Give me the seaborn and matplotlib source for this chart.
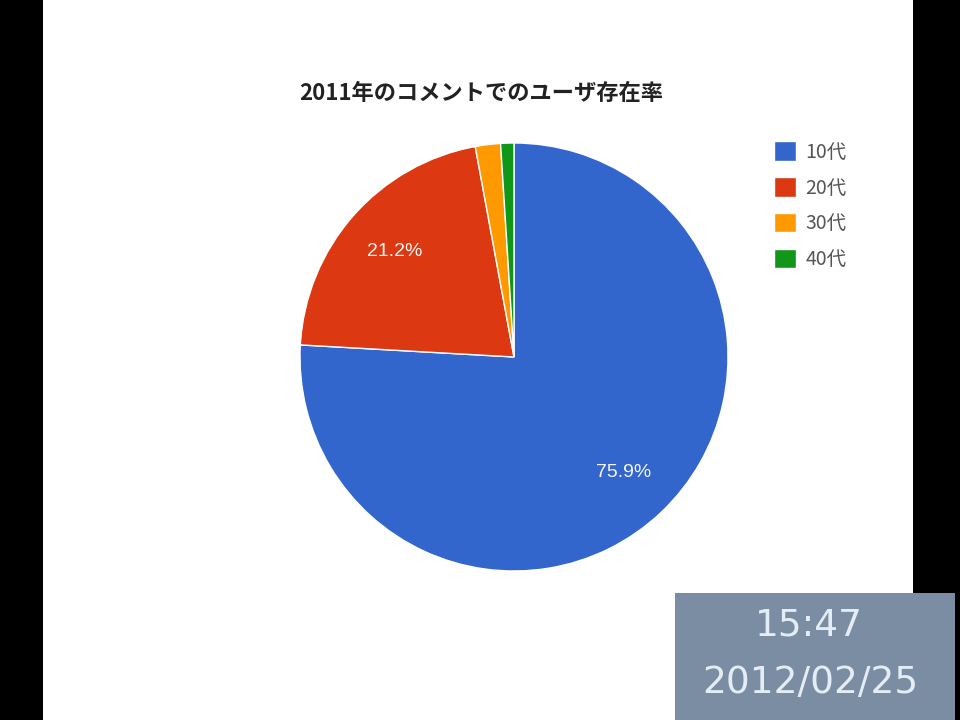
import matplotlib
matplotlib.use("Agg")
import matplotlib.pyplot as plt
from matplotlib.patches import Rectangle
import seaborn as sns

title = "2011年のコメントでのユーザ存在率"
labels = ["10代", "20代", "30代", "40代"]
shares = [75.9, 21.2, 1.9, 1.0]
colors = ["#3366cc", "#dc3912", "#ff9900", "#109618"]
clock_time = "15:47"
clock_date = "2012/02/25"

sns.set_theme(style="white")
plt.rcParams["font.family"] = ["Noto Sans CJK JP", "DejaVu Sans"]

W, H = 960, 720
fig = plt.figure(figsize=(W / 100, H / 100), dpi=100, facecolor="black")

# white page on the black frame
fig.patches.append(Rectangle((43 / W, 0), (913 - 43) / W, 1, transform=fig.transFigure,
                             facecolor="white", edgecolor="none", zorder=-1))

# pie axes: centre (514, 357), radius 214 px
r = 214
ax = fig.add_axes([(514 - r) / W, 1 - (357 + r) / H, 2 * r / W, 2 * r / H])
ax.set_facecolor("none")
ax.set_zorder(2)


def pct_label(p):
    return f"{p:.1f}%" if p > 5 else ""


wedges, texts, autotexts = ax.pie(
    shares,
    colors=colors,
    startangle=90,
    counterclock=False,
    autopct=pct_label,
    pctdistance=0.745,
    wedgeprops={"linewidth": 1, "edgecolor": "white"},
    textprops={"color": "#f4f4f4", "fontsize": 14, "family": ["Liberation Sans", "DejaVu Sans"]},
)
ax.set_xlim(-1, 1)
ax.set_ylim(-1, 1)
ax.set_aspect("auto")
ax.axis("off")

fig.text(481 / W, 1 - 94 / H, title, ha="center", va="center",
         fontsize=16, fontweight="bold", color="#222222")

leg = fig.legend(wedges, labels, loc="upper left",
                 bbox_to_anchor=(756 / W, 1 - 124 / H),
                 frameon=False, fontsize=14, handlelength=1.15, handleheight=1.15,
                 handletextpad=0.5, labelspacing=0.75)
for t in leg.get_texts():
    t.set_color("#555555")

# time stamp box in the bottom right corner
fig.patches.append(Rectangle((675 / W, 0), 280 / W, 127 / H, transform=fig.transFigure,
                             facecolor="#7b8da2", edgecolor="none", zorder=3))
fig.text(809 / W, 1 - 626 / H, clock_time, ha="center", va="center",
         fontsize=27, color="#e4edf5", family="DejaVu Sans", zorder=4)
fig.text(810 / W, 1 - 683 / H, clock_date, ha="center", va="center",
         fontsize=27, color="#e4edf5", family="DejaVu Sans", zorder=4)

fig.savefig("out.png", dpi=100, facecolor=fig.get_facecolor())
